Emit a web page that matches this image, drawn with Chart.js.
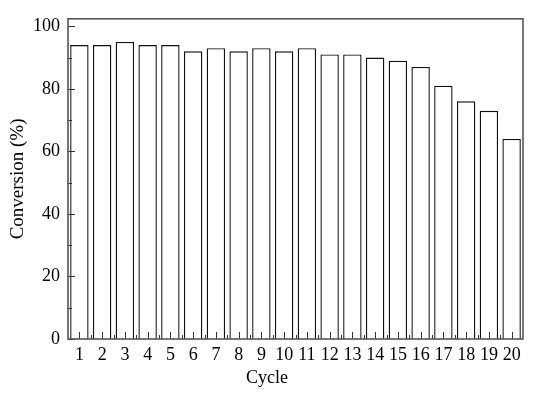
<!DOCTYPE html>
<html>
<head>
<meta charset="utf-8">
<script src="https://cdn.jsdelivr.net/npm/chart.js@4"></script>
<style>
  html, body { margin: 0; padding: 0; background: #fff; }
  #wrap { width: 548px; height: 398px; position: relative; }
</style>
</head>
<body>
<div id="wrap"><canvas id="c"></canvas></div>
<script>
const cycles = ['1','2','3','4','5','6','7','8','9','10','11','12','13','14','15','16','17','18','19','20'];
const conversion = [94, 94, 95, 94, 94, 92, 93, 92, 93, 92, 93, 91, 91, 90, 89, 87, 81, 76, 73, 64];
const yMajorTicks = [0, 20, 40, 60, 80, 100];
const yMinorTicks = [10, 30, 50, 70, 90];
const yTitle = 'Conversion (%)';
const xTitle = 'Cycle';

const FONT = '"Liberation Serif", "Times New Roman", serif';

const framePlugin = {
  id: 'frame',
  afterDatasetsDraw(chart) {
    const { ctx, chartArea: a, scales } = chart;
    const x = scales.x, y = scales.y;
    ctx.save();
    ctx.strokeStyle = '#333';
    ctx.lineWidth = 1;
    ctx.beginPath();
    yMajorTicks.forEach(v => {
      const py = Math.round(y.getPixelForValue(v)) + 0.5;
      ctx.moveTo(a.left, py); ctx.lineTo(a.left + 7, py);
    });
    yMinorTicks.forEach(v => {
      const py = Math.round(y.getPixelForValue(v)) + 0.5;
      ctx.moveTo(a.left, py); ctx.lineTo(a.left + 4, py);
    });
    cycles.forEach((c, i) => {
      const px = Math.round(x.getPixelForValue(i)) + 0.5;
      ctx.moveTo(px, a.bottom); ctx.lineTo(px, a.bottom - 7);
    });
    for (let i = 1; i < cycles.length; i++) {
      const px = Math.round((x.getPixelForValue(i - 1) + x.getPixelForValue(i)) / 2) + 0.5;
      ctx.moveTo(px, a.bottom); ctx.lineTo(px, a.bottom - 4);
    }
    ctx.stroke();
    ctx.strokeStyle = '#555';
    ctx.lineWidth = 1.6;
    ctx.strokeRect(a.left, a.top, a.right - a.left, a.bottom - a.top);
    ctx.fillStyle = '#000';
    ctx.font = '18px ' + FONT;
    ctx.textAlign = 'center';
    ctx.textBaseline = 'middle';
    ctx.fillText(xTitle, 267, 378);
    ctx.restore();
  }
};

new Chart(document.getElementById('c'), {
  type: 'bar',
  data: {
    labels: cycles,
    datasets: [{
      data: conversion,
      backgroundColor: '#ffffff',
      borderColor: '#111111',
      borderWidth: 1.4,
      categoryPercentage: 0.81,
      barPercentage: 1.0
    }]
  },
  options: {
    responsive: true,
    maintainAspectRatio: false,
    animation: false,
    devicePixelRatio: 1,
    layout: { padding: { top: 14, right: 25, left: 0, bottom: 0 } },
    plugins: { legend: { display: false }, tooltip: { enabled: false } },
    scales: {
      x: {
        type: 'category',
        grid: { display: false, drawTicks: false },
        border: { display: false },
        ticks: {
          color: '#000', font: { family: FONT, size: 18 },
          padding: 5, maxRotation: 0, autoSkip: false
        },
        afterFit(scale) { scale.height = 59; }
      },
      y: {
        min: 0, max: 102.4,
        grid: { display: false, drawTicks: false },
        border: { display: false },
        ticks: {
          color: '#000', font: { family: FONT, size: 18 }, padding: 8
        },
        afterBuildTicks(scale) { scale.ticks = yMajorTicks.map(v => ({ value: v })); },
        title: {
          display: true, text: yTitle, color: '#000',
          font: { family: FONT, size: 19 }, padding: { top: 7, bottom: 0 }
        },
        afterFit(scale) { scale.width = 68; }
      }
    }
  },
  plugins: [framePlugin]
});
</script>
</body>
</html>
